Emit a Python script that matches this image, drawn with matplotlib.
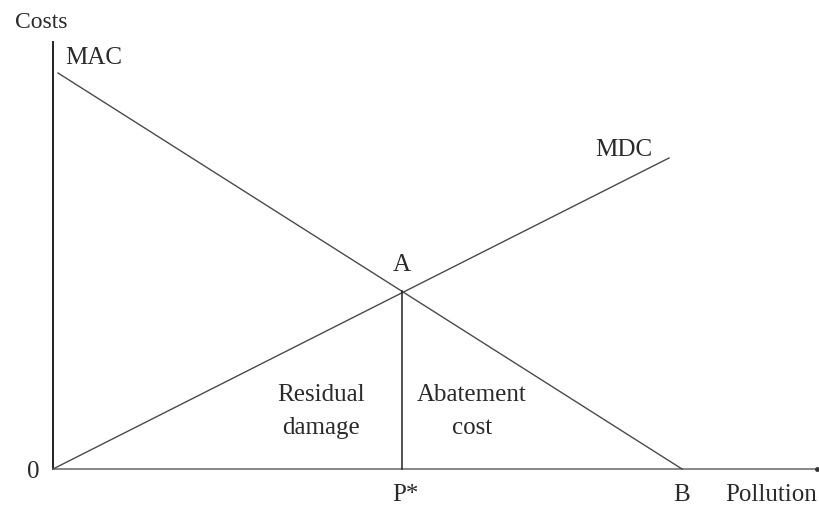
import matplotlib.pyplot as plt

# curve end points (pollution, cost)
mac_x = [5, 629]
mac_y = [396, 0]
mdc_x = [0, 616]
mdc_y = [0, 311]
p_star = 349
a_cost = 178
x_end = 764
y_end = 427

plt.rcParams['font.family'] = ['Liberation Serif', 'DejaVu Serif']

fig = plt.figure(figsize=(8.19, 5.16), dpi=100)
ax = fig.add_axes([0, 0, 1, 1])
ax.set_xlim(-53, 766)
ax.set_ylim(-47, 469)
ax.axis('off')

ink = '#2a2a2a'
line_c = '#4a4a4a'

# axes
ax.plot([0, 0], [0, y_end], color='#222222', lw=1.4)
ax.plot([0, x_end], [0, 0], color='#666666', lw=1.1)
ax.plot([x_end], [0], marker='o', ms=2.5, color='#333333')

# curves
ax.plot(mac_x, mac_y, color=line_c, lw=1.0)
ax.plot(mdc_x, mdc_y, color=line_c, lw=1.0)
ax.plot([p_star, p_star], [0, a_cost], color='#222222', lw=1.1)

fs = 18
ax.text(-38, 446, 'Costs', fontsize=fs - 1, color=ink, ha='left', va='center')
ax.text(12, 411, 'MAC', fontsize=fs, color=ink, ha='left', va='center')
ax.text(542, 319, 'MDC', fontsize=fs, color=ink, ha='left', va='center')
ax.text(p_star, 204, 'A', fontsize=fs, color=ink, ha='center', va='center')
ax.text(-20, -3, '0', fontsize=fs, color=ink, ha='center', va='center')
ax.text(p_star + 3, -26, 'P*', fontsize=fs, color=ink, ha='center', va='center')
ax.text(629, -26, 'B', fontsize=fs, color=ink, ha='center', va='center')
ax.text(672, -26, 'Pollution', fontsize=fs, color=ink, ha='left', va='center')
ax.text(268, 74, 'Residual', fontsize=fs, color=ink, ha='center', va='center')
ax.text(268, 41, 'damage', fontsize=fs, color=ink, ha='center', va='center')
ax.text(419, 74, 'Abatement', fontsize=fs, color=ink, ha='center', va='center')
ax.text(419, 41, 'cost', fontsize=fs, color=ink, ha='center', va='center')

fig.savefig('out.png', dpi=100, facecolor='white')
